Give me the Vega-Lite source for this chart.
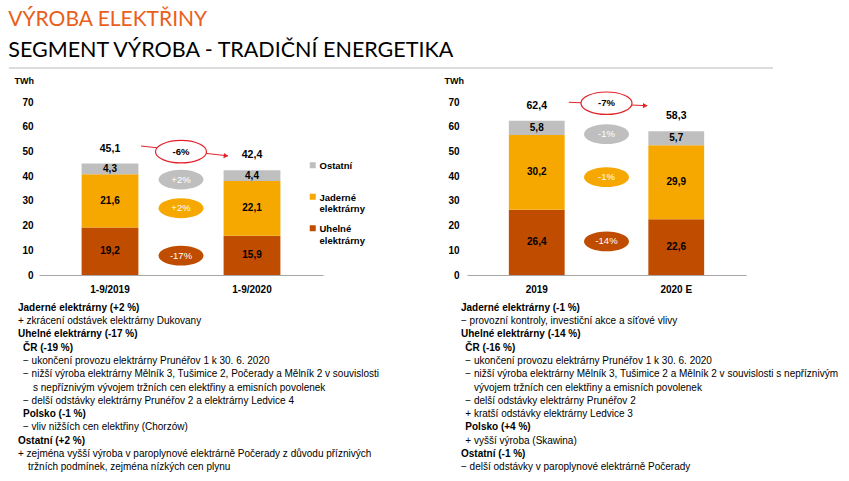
{
  "$schema": "https://vega.github.io/schema/vega-lite/v6.json",
  "background": "white",
  "padding": {"left": 8, "top": 9, "right": 5, "bottom": 5},
  "title": {
    "text": "VÝROBA ELEKTŘINY",
    "subtitle": "SEGMENT VÝROBA - TRADIČNÍ ENERGETIKA",
    "anchor": "start",
    "frame": "bounds",
    "font": "Lato",
    "fontSize": 21,
    "fontWeight": 400,
    "color": "#E8601C",
    "subtitleFont": "Lato",
    "subtitleFontSize": 21.5,
    "subtitleFontWeight": 400,
    "subtitleColor": "#000000",
    "subtitlePadding": 10,
    "offset": 5.5
  },
  "config": {
    "view": {"stroke": null},
    "font": "Liberation Sans",
    "locale": {"number": {"decimal": ",", "thousands": " ", "grouping": [3], "currency": ["", " Kč"]}},
    "axis": {"grid": false, "ticks": false, "labelOverlap": false, "labelFlush": false, "labelFont": "Liberation Sans", "labelFontWeight": "bold", "labelFontSize": 10, "labelColor": "#000000"}
  },
  "datasets": {
    "oddelovac": [{"od": 0, "do": 1, "uroven": 0}],
    "sloupceL": [
      {"obdobi": "1-9/2019", "typ": "Uhelné elektrárny", "hodnota": 19.2},
      {"obdobi": "1-9/2019", "typ": "Jaderné elektrárny", "hodnota": 21.6},
      {"obdobi": "1-9/2019", "typ": "Ostatní", "hodnota": 4.3},
      {"obdobi": "1-9/2020", "typ": "Uhelné elektrárny", "hodnota": 15.9},
      {"obdobi": "1-9/2020", "typ": "Jaderné elektrárny", "hodnota": 22.1},
      {"obdobi": "1-9/2020", "typ": "Ostatní", "hodnota": 4.4}
    ],
    "souctyL": [{"obdobi": "1-9/2019", "celkem": 45.1}, {"obdobi": "1-9/2020", "celkem": 42.4}],
    "zmenyL": [
      {"obdobi": "mezi", "typ": "Ostatní", "zmena": "+2%", "poloha": 38.6},
      {"obdobi": "mezi", "typ": "Jaderné elektrárny", "zmena": "+2%", "poloha": 27.0},
      {"obdobi": "mezi", "typ": "Uhelné elektrárny", "zmena": "-17%", "poloha": 7.8}
    ],
    "celkemZmenaL": [{"obdobi": "mezi", "zmena": "-6%", "poloha": 49.9, "od": "1-9/2019", "do": "1-9/2020", "zacatek": 52.2, "konec": 48.2}],
    "sloupceR": [
      {"obdobi": "2019", "typ": "Uhelné elektrárny", "hodnota": 26.4},
      {"obdobi": "2019", "typ": "Jaderné elektrárny", "hodnota": 30.2},
      {"obdobi": "2019", "typ": "Ostatní", "hodnota": 5.8},
      {"obdobi": "2020 E", "typ": "Uhelné elektrárny", "hodnota": 22.6},
      {"obdobi": "2020 E", "typ": "Jaderné elektrárny", "hodnota": 29.9},
      {"obdobi": "2020 E", "typ": "Ostatní", "hodnota": 5.7}
    ],
    "souctyR": [{"obdobi": "2019", "celkem": 62.4}, {"obdobi": "2020 E", "celkem": 58.3}],
    "zmenyR": [
      {"obdobi": "mezi", "typ": "Ostatní", "zmena": "-1%", "poloha": 57.0},
      {"obdobi": "mezi", "typ": "Jaderné elektrárny", "zmena": "-1%", "poloha": 39.6},
      {"obdobi": "mezi", "typ": "Uhelné elektrárny", "zmena": "-14%", "poloha": 13.6}
    ],
    "celkemZmenaR": [{"obdobi": "mezi", "zmena": "-7%", "poloha": 69.5, "od": "2019", "do": "2020 E", "zacatek": 69.9, "konec": 68.5}],
    "poznamkyL": [
      {"radek": 1, "druh": "nadpis", "uroven": 0, "text": "Jaderné elektrárny (+2 %)"},
      {"radek": 2, "druh": "bod", "uroven": 0, "text": "+ zkrácení odstávek elektrárny Dukovany"},
      {"radek": 3, "druh": "nadpis", "uroven": 0, "text": "Uhelné elektrárny (-17 %)"},
      {"radek": 4, "druh": "nadpis", "uroven": 1, "text": "ČR (-19 %)"},
      {"radek": 5, "druh": "bod", "uroven": 1, "text": "− ukončení provozu elektrárny Prunéřov 1 k 30. 6. 2020"},
      {"radek": 6, "druh": "bod", "uroven": 1, "text": "− nižší výroba elektrárny Mělník 3, Tušimice 2, Počerady a Mělník 2 v souvislosti"},
      {"radek": 7, "druh": "bod", "uroven": 3, "text": "s nepříznivým vývojem tržních cen elektřiny a emisních povolenek"},
      {"radek": 8, "druh": "bod", "uroven": 1, "text": "− delší odstávky elektrárny Prunéřov 2 a elektrárny Ledvice 4"},
      {"radek": 9, "druh": "nadpis", "uroven": 1, "text": "Polsko (-1 %)"},
      {"radek": 10, "druh": "bod", "uroven": 1, "text": "−  vliv nižších cen elektřiny (Chorzów)"},
      {"radek": 11, "druh": "nadpis", "uroven": 0, "text": "Ostatní (+2 %)"},
      {"radek": 12, "druh": "bod", "uroven": 0, "text": "+ zejména vyšší výroba v paroplynové elektrárně Počerady z důvodu příznivých"},
      {"radek": 13, "druh": "bod", "uroven": 2, "text": "tržních podmínek, zejména nízkých cen plynu"}
    ],
    "poznamkyR": [
      {"radek": 1, "druh": "nadpis", "uroven": 0, "text": "Jaderné elektrárny (-1 %)"},
      {"radek": 2, "druh": "bod", "uroven": 0, "text": "− provozní kontroly, investiční akce a síťové vlivy"},
      {"radek": 3, "druh": "nadpis", "uroven": 0, "text": "Uhelné elektrárny (-14 %)"},
      {"radek": 4, "druh": "nadpis", "uroven": 1, "text": "ČR (-16 %)"},
      {"radek": 5, "druh": "bod", "uroven": 1, "text": "− ukončení provozu elektrárny Prunéřov 1 k 30. 6. 2020"},
      {"radek": 6, "druh": "bod", "uroven": 1, "text": "− nižší výroba elektrárny Mělník 3, Tušimice 2 a Mělník 2 v souvislosti s nepříznivým"},
      {"radek": 7, "druh": "bod", "uroven": 3, "text": "vývojem tržních cen elektřiny a emisních povolenek"},
      {"radek": 8, "druh": "bod", "uroven": 1, "text": "− delší odstávky elektrárny Prunéřov 2"},
      {"radek": 9, "druh": "bod", "uroven": 1, "text": "+ kratší odstávky elektrárny Ledvice 3"},
      {"radek": 10, "druh": "nadpis", "uroven": 1, "text": "Polsko (+4 %)"},
      {"radek": 11, "druh": "bod", "uroven": 1, "text": "+ vyšší výroba (Skawina)"},
      {"radek": 12, "druh": "nadpis", "uroven": 0, "text": "Ostatní (-1 %)"},
      {"radek": 13, "druh": "bod", "uroven": 0, "text": "− delší odstávky v paroplynové elektrárně Počerady"}
    ]
  },
  "spacing": 7,
  "vconcat": [
    {
      "width": 764,
      "height": 1,
      "data": {"name": "oddelovac"},
      "mark": {"type": "rule", "color": "#D0D0D0", "strokeWidth": 1.5},
      "encoding": {
        "x": {"field": "od", "type": "quantitative", "scale": {"domain": [0, 1], "range": [-30, 734]}, "axis": null},
        "x2": {"field": "do"},
        "y": {"field": "uroven", "type": "quantitative", "scale": {"domain": [0, 1]}, "axis": null}
      }
    },
    {
      "spacing": 79,
      "resolve": {"scale": {"color": "independent"}},
      "hconcat": [
        {
          "width": 284,
          "height": 173,
          "layer": [
            {
              "data": {"name": "sloupceL"},
              "transform": [{"calculate": "indexof(['Uhelné elektrárny', 'Jaderné elektrárny', 'Ostatní'], datum.typ)", "as": "poradi"}],
              "mark": {"type": "bar"},
              "encoding": {
                "x": {"field": "obdobi", "type": "nominal", "scale": {"domain": ["1-9/2019", "mezi", "1-9/2020"], "paddingInner": 0.2, "paddingOuter": 0.6},
                  "axis": {"title": null, "labelExpr": "datum.value == 'mezi' ? '' : datum.value", "labelAngle": 0, "labelPadding": 9, "domainColor": "#A6A6A6", "domainWidth": 1.2}},
                "y": {"field": "hodnota", "type": "quantitative", "stack": "zero", "scale": {"domain": [0, 70], "nice": false},
                  "axis": {"title": "TWh", "titleAngle": 0, "titleAlign": "left", "titleBaseline": "alphabetic", "titleX": -25, "titleY": -19, "titleFont": "Liberation Sans", "titleFontSize": 9, "titleFontWeight": "bold", "titleColor": "#000000", "values": [0, 10, 20, 30, 40, 50, 60, 70], "labelOverlap": false, "labelFlush": false, "domain": false, "labelPadding": 6}},
                "color": {"field": "typ", "type": "nominal",
                  "scale": {"domain": ["Ostatní", "Jaderné elektrárny", "Uhelné elektrárny"], "range": ["#BFBFBF", "#F6A800", "#C04C00"]},
                  "legend": {"title": null, "orient": "none", "legendX": 269, "legendY": 54.5, "gridAlign": "all", "symbolType": "M -1 0.33 H 1 V 2.33 H -1 Z", "symbolSize": 36, "symbolStrokeWidth": 0, "labelFont": "Liberation Sans", "labelFontSize": 9.5, "labelFontWeight": "bold", "labelColor": "#000000", "labelExpr": "split(datum.label, ' ')", "rowPadding": 5.5, "labelOffset": 2, "labelBaseline": "top"}},
                "order": {"field": "poradi"}
              }
            },
            {
              "data": {"name": "sloupceL"},
              "transform": [{"calculate": "indexof(['Uhelné elektrárny', 'Jaderné elektrárny', 'Ostatní'], datum.typ)", "as": "poradi"}],
              "mark": {"type": "text", "fontWeight": "bold", "fontSize": 10, "color": "#000000"},
              "encoding": {
                "x": {"field": "obdobi", "type": "nominal", "scale": {"domain": ["1-9/2019", "mezi", "1-9/2020"], "paddingInner": 0.2, "paddingOuter": 0.6}},
                "y": {"field": "hodnota", "type": "quantitative", "stack": "zero", "bandPosition": 0.5, "scale": {"domain": [0, 70], "nice": false},
                  "axis": {"title": "TWh", "titleAngle": 0, "titleAlign": "left", "titleBaseline": "alphabetic", "titleX": -25, "titleY": -19, "titleFont": "Liberation Sans", "titleFontSize": 9, "titleFontWeight": "bold", "titleColor": "#000000", "values": [0, 10, 20, 30, 40, 50, 60, 70], "labelOverlap": false, "labelFlush": false, "domain": false, "labelPadding": 6}},
                "detail": {"field": "typ"},
                "order": {"field": "poradi"},
                "text": {"field": "hodnota", "type": "quantitative", "format": ".1f"}
              }
            },
            {
              "data": {"name": "souctyL"},
              "mark": {"type": "text", "fontWeight": "bold", "fontSize": 10.5, "color": "#000000", "dy": -15},
              "encoding": {
                "x": {"field": "obdobi", "type": "nominal", "scale": {"domain": ["1-9/2019", "mezi", "1-9/2020"], "paddingInner": 0.2, "paddingOuter": 0.6}},
                "y": {"field": "celkem", "type": "quantitative", "scale": {"domain": [0, 70], "nice": false},
                  "axis": {"title": "TWh", "titleAngle": 0, "titleAlign": "left", "titleBaseline": "alphabetic", "titleX": -25, "titleY": -19, "titleFont": "Liberation Sans", "titleFontSize": 9, "titleFontWeight": "bold", "titleColor": "#000000", "values": [0, 10, 20, 30, 40, 50, 60, 70], "labelOverlap": false, "labelFlush": false, "domain": false, "labelPadding": 6}},
                "text": {"field": "celkem", "type": "quantitative", "format": ".1f"}
              }
            },
            {
              "data": {"name": "celkemZmenaL"},
              "mark": {"type": "rule", "color": "#E2232A", "strokeWidth": 1, "xOffset": 31, "x2Offset": -24},
              "encoding": {
                "x": {"field": "od", "type": "nominal", "scale": {"domain": ["1-9/2019", "mezi", "1-9/2020"], "paddingInner": 0.2, "paddingOuter": 0.6}},
                "x2": {"field": "do"},
                "y": {"field": "zacatek", "type": "quantitative", "scale": {"domain": [0, 70], "nice": false},
                  "axis": {"title": "TWh", "titleAngle": 0, "titleAlign": "left", "titleBaseline": "alphabetic", "titleX": -25, "titleY": -19, "titleFont": "Liberation Sans", "titleFontSize": 9, "titleFontWeight": "bold", "titleColor": "#000000", "values": [0, 10, 20, 30, 40, 50, 60, 70], "labelOverlap": false, "labelFlush": false, "domain": false, "labelPadding": 6}},
                "y2": {"field": "konec"}
              }
            },
            {
              "data": {"name": "celkemZmenaL"},
              "mark": {"type": "point", "shape": "triangle-right", "filled": true, "color": "#E2232A", "opacity": 1, "size": 28, "xOffset": -26, "angle": 6},
              "encoding": {
                "x": {"field": "do", "type": "nominal", "scale": {"domain": ["1-9/2019", "mezi", "1-9/2020"], "paddingInner": 0.2, "paddingOuter": 0.6}},
                "y": {"field": "konec", "type": "quantitative", "scale": {"domain": [0, 70], "nice": false},
                  "axis": {"title": "TWh", "titleAngle": 0, "titleAlign": "left", "titleBaseline": "alphabetic", "titleX": -25, "titleY": -19, "titleFont": "Liberation Sans", "titleFontSize": 9, "titleFontWeight": "bold", "titleColor": "#000000", "values": [0, 10, 20, 30, 40, 50, 60, 70], "labelOverlap": false, "labelFlush": false, "domain": false, "labelPadding": 6}}
              }
            },
            {
              "data": {"name": "zmenyL"},
              "mark": {"type": "point", "shape": "M -1 0 C -1 -0.243 -0.552 -0.44 0 -0.44 C 0.552 -0.44 1 -0.243 1 0 C 1 0.243 0.552 0.44 0 0.44 C -0.552 0.44 -1 0.243 -1 0 Z", "filled": true, "opacity": 1, "size": 2025, "strokeWidth": 0},
              "encoding": {
                "x": {"field": "obdobi", "type": "nominal", "scale": {"domain": ["1-9/2019", "mezi", "1-9/2020"], "paddingInner": 0.2, "paddingOuter": 0.6}},
                "y": {"field": "poloha", "type": "quantitative", "scale": {"domain": [0, 70], "nice": false},
                  "axis": {"title": "TWh", "titleAngle": 0, "titleAlign": "left", "titleBaseline": "alphabetic", "titleX": -25, "titleY": -19, "titleFont": "Liberation Sans", "titleFontSize": 9, "titleFontWeight": "bold", "titleColor": "#000000", "values": [0, 10, 20, 30, 40, 50, 60, 70], "labelOverlap": false, "labelFlush": false, "domain": false, "labelPadding": 6}},
                "color": {"field": "typ", "type": "nominal", "scale": {"domain": ["Ostatní", "Jaderné elektrárny", "Uhelné elektrárny"], "range": ["#BFBFBF", "#F6A800", "#C04C00"]}, "legend": null}
              }
            },
            {
              "data": {"name": "zmenyL"},
              "mark": {"type": "text", "fontSize": 9.5, "color": "#FFFFFF"},
              "encoding": {
                "x": {"field": "obdobi", "type": "nominal", "scale": {"domain": ["1-9/2019", "mezi", "1-9/2020"], "paddingInner": 0.2, "paddingOuter": 0.6}},
                "y": {"field": "poloha", "type": "quantitative", "scale": {"domain": [0, 70], "nice": false},
                  "axis": {"title": "TWh", "titleAngle": 0, "titleAlign": "left", "titleBaseline": "alphabetic", "titleX": -25, "titleY": -19, "titleFont": "Liberation Sans", "titleFontSize": 9, "titleFontWeight": "bold", "titleColor": "#000000", "values": [0, 10, 20, 30, 40, 50, 60, 70], "labelOverlap": false, "labelFlush": false, "domain": false, "labelPadding": 6}},
                "text": {"field": "zmena"}
              }
            },
            {
              "data": {"name": "celkemZmenaL"},
              "mark": {"type": "point", "shape": "M -1 0 C -1 -0.243 -0.552 -0.44 0 -0.44 C 0.552 -0.44 1 -0.243 1 0 C 1 0.243 0.552 0.44 0 0.44 C -0.552 0.44 -1 0.243 -1 0 Z", "filled": false, "fill": "#FFFFFF", "fillOpacity": 1, "stroke": "#E2232A", "strokeWidth": 1.2, "opacity": 1, "size": 2601},
              "encoding": {
                "x": {"field": "obdobi", "type": "nominal", "scale": {"domain": ["1-9/2019", "mezi", "1-9/2020"], "paddingInner": 0.2, "paddingOuter": 0.6}},
                "y": {"field": "poloha", "type": "quantitative", "scale": {"domain": [0, 70], "nice": false},
                  "axis": {"title": "TWh", "titleAngle": 0, "titleAlign": "left", "titleBaseline": "alphabetic", "titleX": -25, "titleY": -19, "titleFont": "Liberation Sans", "titleFontSize": 9, "titleFontWeight": "bold", "titleColor": "#000000", "values": [0, 10, 20, 30, 40, 50, 60, 70], "labelOverlap": false, "labelFlush": false, "domain": false, "labelPadding": 6}}
              }
            },
            {
              "data": {"name": "celkemZmenaL"},
              "mark": {"type": "text", "fontSize": 9.5, "fontWeight": "bold", "color": "#000000"},
              "encoding": {
                "x": {"field": "obdobi", "type": "nominal", "scale": {"domain": ["1-9/2019", "mezi", "1-9/2020"], "paddingInner": 0.2, "paddingOuter": 0.6}},
                "y": {"field": "poloha", "type": "quantitative", "scale": {"domain": [0, 70], "nice": false},
                  "axis": {"title": "TWh", "titleAngle": 0, "titleAlign": "left", "titleBaseline": "alphabetic", "titleX": -25, "titleY": -19, "titleFont": "Liberation Sans", "titleFontSize": 9, "titleFontWeight": "bold", "titleColor": "#000000", "values": [0, 10, 20, 30, 40, 50, 60, 70], "labelOverlap": false, "labelFlush": false, "domain": false, "labelPadding": 6}},
                "text": {"field": "zmena"}
              }
            }
          ]
        },
        {
          "width": 279,
          "height": 173,
          "layer": [
            {
              "data": {"name": "sloupceR"},
              "transform": [{"calculate": "indexof(['Uhelné elektrárny', 'Jaderné elektrárny', 'Ostatní'], datum.typ)", "as": "poradi"}],
              "mark": {"type": "bar"},
              "encoding": {
                "x": {"field": "obdobi", "type": "nominal", "scale": {"domain": ["2019", "mezi", "2020 E"], "paddingInner": 0.2, "paddingOuter": 0.6},
                  "axis": {"title": null, "labelExpr": "datum.value == 'mezi' ? '' : datum.value", "labelAngle": 0, "labelPadding": 9, "domainColor": "#A6A6A6", "domainWidth": 1.2}},
                "y": {"field": "hodnota", "type": "quantitative", "stack": "zero", "scale": {"domain": [0, 70], "nice": false},
                  "axis": {"title": "TWh", "titleAngle": 0, "titleAlign": "left", "titleBaseline": "alphabetic", "titleX": -23, "titleY": -19, "titleFont": "Liberation Sans", "titleFontSize": 9, "titleFontWeight": "bold", "titleColor": "#000000", "values": [0, 10, 20, 30, 40, 50, 60, 70], "labelOverlap": false, "labelFlush": false, "domain": false, "labelPadding": 8}},
                "color": {"field": "typ", "type": "nominal",
                  "scale": {"domain": ["Ostatní", "Jaderné elektrárny", "Uhelné elektrárny"], "range": ["#BFBFBF", "#F6A800", "#C04C00"]},
                  "legend": null},
                "order": {"field": "poradi"}
              }
            },
            {
              "data": {"name": "sloupceR"},
              "transform": [{"calculate": "indexof(['Uhelné elektrárny', 'Jaderné elektrárny', 'Ostatní'], datum.typ)", "as": "poradi"}],
              "mark": {"type": "text", "fontWeight": "bold", "fontSize": 10, "color": "#000000"},
              "encoding": {
                "x": {"field": "obdobi", "type": "nominal", "scale": {"domain": ["2019", "mezi", "2020 E"], "paddingInner": 0.2, "paddingOuter": 0.6}},
                "y": {"field": "hodnota", "type": "quantitative", "stack": "zero", "bandPosition": 0.5, "scale": {"domain": [0, 70], "nice": false},
                  "axis": {"title": "TWh", "titleAngle": 0, "titleAlign": "left", "titleBaseline": "alphabetic", "titleX": -23, "titleY": -19, "titleFont": "Liberation Sans", "titleFontSize": 9, "titleFontWeight": "bold", "titleColor": "#000000", "values": [0, 10, 20, 30, 40, 50, 60, 70], "labelOverlap": false, "labelFlush": false, "domain": false, "labelPadding": 8}},
                "detail": {"field": "typ"},
                "order": {"field": "poradi"},
                "text": {"field": "hodnota", "type": "quantitative", "format": ".1f"}
              }
            },
            {
              "data": {"name": "souctyR"},
              "mark": {"type": "text", "fontWeight": "bold", "fontSize": 10.5, "color": "#000000", "dy": -15},
              "encoding": {
                "x": {"field": "obdobi", "type": "nominal", "scale": {"domain": ["2019", "mezi", "2020 E"], "paddingInner": 0.2, "paddingOuter": 0.6}},
                "y": {"field": "celkem", "type": "quantitative", "scale": {"domain": [0, 70], "nice": false},
                  "axis": {"title": "TWh", "titleAngle": 0, "titleAlign": "left", "titleBaseline": "alphabetic", "titleX": -23, "titleY": -19, "titleFont": "Liberation Sans", "titleFontSize": 9, "titleFontWeight": "bold", "titleColor": "#000000", "values": [0, 10, 20, 30, 40, 50, 60, 70], "labelOverlap": false, "labelFlush": false, "domain": false, "labelPadding": 8}},
                "text": {"field": "celkem", "type": "quantitative", "format": ".1f"}
              }
            },
            {
              "data": {"name": "celkemZmenaR"},
              "mark": {"type": "rule", "color": "#E2232A", "strokeWidth": 1, "xOffset": 32, "x2Offset": -29},
              "encoding": {
                "x": {"field": "od", "type": "nominal", "scale": {"domain": ["2019", "mezi", "2020 E"], "paddingInner": 0.2, "paddingOuter": 0.6}},
                "x2": {"field": "do"},
                "y": {"field": "zacatek", "type": "quantitative", "scale": {"domain": [0, 70], "nice": false},
                  "axis": {"title": "TWh", "titleAngle": 0, "titleAlign": "left", "titleBaseline": "alphabetic", "titleX": -23, "titleY": -19, "titleFont": "Liberation Sans", "titleFontSize": 9, "titleFontWeight": "bold", "titleColor": "#000000", "values": [0, 10, 20, 30, 40, 50, 60, 70], "labelOverlap": false, "labelFlush": false, "domain": false, "labelPadding": 8}},
                "y2": {"field": "konec"}
              }
            },
            {
              "data": {"name": "celkemZmenaR"},
              "mark": {"type": "point", "shape": "triangle-right", "filled": true, "color": "#E2232A", "opacity": 1, "size": 28, "xOffset": -31, "angle": 2},
              "encoding": {
                "x": {"field": "do", "type": "nominal", "scale": {"domain": ["2019", "mezi", "2020 E"], "paddingInner": 0.2, "paddingOuter": 0.6}},
                "y": {"field": "konec", "type": "quantitative", "scale": {"domain": [0, 70], "nice": false},
                  "axis": {"title": "TWh", "titleAngle": 0, "titleAlign": "left", "titleBaseline": "alphabetic", "titleX": -23, "titleY": -19, "titleFont": "Liberation Sans", "titleFontSize": 9, "titleFontWeight": "bold", "titleColor": "#000000", "values": [0, 10, 20, 30, 40, 50, 60, 70], "labelOverlap": false, "labelFlush": false, "domain": false, "labelPadding": 8}}
              }
            },
            {
              "data": {"name": "zmenyR"},
              "mark": {"type": "point", "shape": "M -1 0 C -1 -0.243 -0.552 -0.44 0 -0.44 C 0.552 -0.44 1 -0.243 1 0 C 1 0.243 0.552 0.44 0 0.44 C -0.552 0.44 -1 0.243 -1 0 Z", "filled": true, "opacity": 1, "size": 2025, "strokeWidth": 0},
              "encoding": {
                "x": {"field": "obdobi", "type": "nominal", "scale": {"domain": ["2019", "mezi", "2020 E"], "paddingInner": 0.2, "paddingOuter": 0.6}},
                "y": {"field": "poloha", "type": "quantitative", "scale": {"domain": [0, 70], "nice": false},
                  "axis": {"title": "TWh", "titleAngle": 0, "titleAlign": "left", "titleBaseline": "alphabetic", "titleX": -23, "titleY": -19, "titleFont": "Liberation Sans", "titleFontSize": 9, "titleFontWeight": "bold", "titleColor": "#000000", "values": [0, 10, 20, 30, 40, 50, 60, 70], "labelOverlap": false, "labelFlush": false, "domain": false, "labelPadding": 8}},
                "color": {"field": "typ", "type": "nominal", "scale": {"domain": ["Ostatní", "Jaderné elektrárny", "Uhelné elektrárny"], "range": ["#BFBFBF", "#F6A800", "#C04C00"]}, "legend": null}
              }
            },
            {
              "data": {"name": "zmenyR"},
              "mark": {"type": "text", "fontSize": 9.5, "color": "#FFFFFF"},
              "encoding": {
                "x": {"field": "obdobi", "type": "nominal", "scale": {"domain": ["2019", "mezi", "2020 E"], "paddingInner": 0.2, "paddingOuter": 0.6}},
                "y": {"field": "poloha", "type": "quantitative", "scale": {"domain": [0, 70], "nice": false},
                  "axis": {"title": "TWh", "titleAngle": 0, "titleAlign": "left", "titleBaseline": "alphabetic", "titleX": -23, "titleY": -19, "titleFont": "Liberation Sans", "titleFontSize": 9, "titleFontWeight": "bold", "titleColor": "#000000", "values": [0, 10, 20, 30, 40, 50, 60, 70], "labelOverlap": false, "labelFlush": false, "domain": false, "labelPadding": 8}},
                "text": {"field": "zmena"}
              }
            },
            {
              "data": {"name": "celkemZmenaR"},
              "mark": {"type": "point", "shape": "M -1 0 C -1 -0.243 -0.552 -0.44 0 -0.44 C 0.552 -0.44 1 -0.243 1 0 C 1 0.243 0.552 0.44 0 0.44 C -0.552 0.44 -1 0.243 -1 0 Z", "filled": false, "fill": "#FFFFFF", "fillOpacity": 1, "stroke": "#E2232A", "strokeWidth": 1.2, "opacity": 1, "size": 2601},
              "encoding": {
                "x": {"field": "obdobi", "type": "nominal", "scale": {"domain": ["2019", "mezi", "2020 E"], "paddingInner": 0.2, "paddingOuter": 0.6}},
                "y": {"field": "poloha", "type": "quantitative", "scale": {"domain": [0, 70], "nice": false},
                  "axis": {"title": "TWh", "titleAngle": 0, "titleAlign": "left", "titleBaseline": "alphabetic", "titleX": -23, "titleY": -19, "titleFont": "Liberation Sans", "titleFontSize": 9, "titleFontWeight": "bold", "titleColor": "#000000", "values": [0, 10, 20, 30, 40, 50, 60, 70], "labelOverlap": false, "labelFlush": false, "domain": false, "labelPadding": 8}}
              }
            },
            {
              "data": {"name": "celkemZmenaR"},
              "mark": {"type": "text", "fontSize": 9.5, "fontWeight": "bold", "color": "#000000"},
              "encoding": {
                "x": {"field": "obdobi", "type": "nominal", "scale": {"domain": ["2019", "mezi", "2020 E"], "paddingInner": 0.2, "paddingOuter": 0.6}},
                "y": {"field": "poloha", "type": "quantitative", "scale": {"domain": [0, 70], "nice": false},
                  "axis": {"title": "TWh", "titleAngle": 0, "titleAlign": "left", "titleBaseline": "alphabetic", "titleX": -23, "titleY": -19, "titleFont": "Liberation Sans", "titleFontSize": 9, "titleFontWeight": "bold", "titleColor": "#000000", "values": [0, 10, 20, 30, 40, 50, 60, 70], "labelOverlap": false, "labelFlush": false, "domain": false, "labelPadding": 8}},
                "text": {"field": "zmena"}
              }
            }
          ]
        }
      ]
    },
    {
      "spacing": 22,
      "hconcat": [
        {
          "width": 400,
          "height": 173,
          "data": {"name": "poznamkyL"},
          "layer": [
            {
              "transform": [{"filter": "datum.druh == 'nadpis'"}],
              "mark": {"type": "text", "align": "left", "baseline": "middle", "fontSize": 10, "fontWeight": "bold", "color": "#000000"},
              "encoding": {
                "x": {"field": "uroven", "type": "quantitative", "scale": {"domain": [0, 3], "range": [-21, -6]}, "axis": null},
                "y": {"field": "radek", "type": "ordinal", "scale": {"type": "point", "padding": 0.5, "domain": [1, 2, 3, 4, 5, 6, 7, 8, 9, 10, 11, 12, 13]}, "axis": null},
                "text": {"field": "text"}
              }
            },
            {
              "transform": [{"filter": "datum.druh == 'bod'"}],
              "mark": {"type": "text", "align": "left", "baseline": "middle", "fontSize": 10, "color": "#000000"},
              "encoding": {
                "x": {"field": "uroven", "type": "quantitative", "scale": {"domain": [0, 3], "range": [-21, -6]}, "axis": null},
                "y": {"field": "radek", "type": "ordinal", "scale": {"type": "point", "padding": 0.5, "domain": [1, 2, 3, 4, 5, 6, 7, 8, 9, 10, 11, 12, 13]}, "axis": null},
                "text": {"field": "text"}
              }
            }
          ]
        },
        {
          "width": 380,
          "height": 173,
          "data": {"name": "poznamkyR"},
          "layer": [
            {
              "transform": [{"filter": "datum.druh == 'nadpis'"}],
              "mark": {"type": "text", "align": "left", "baseline": "middle", "fontSize": 10, "fontWeight": "bold", "color": "#000000"},
              "encoding": {
                "x": {"field": "uroven", "type": "quantitative", "scale": {"domain": [0, 3], "range": [0, 13]}, "axis": null},
                "y": {"field": "radek", "type": "ordinal", "scale": {"type": "point", "padding": 0.5, "domain": [1, 2, 3, 4, 5, 6, 7, 8, 9, 10, 11, 12, 13]}, "axis": null},
                "text": {"field": "text"}
              }
            },
            {
              "transform": [{"filter": "datum.druh == 'bod'"}],
              "mark": {"type": "text", "align": "left", "baseline": "middle", "fontSize": 10, "color": "#000000"},
              "encoding": {
                "x": {"field": "uroven", "type": "quantitative", "scale": {"domain": [0, 3], "range": [0, 13]}, "axis": null},
                "y": {"field": "radek", "type": "ordinal", "scale": {"type": "point", "padding": 0.5, "domain": [1, 2, 3, 4, 5, 6, 7, 8, 9, 10, 11, 12, 13]}, "axis": null},
                "text": {"field": "text"}
              }
            }
          ]
        }
      ]
    }
  ]
}
